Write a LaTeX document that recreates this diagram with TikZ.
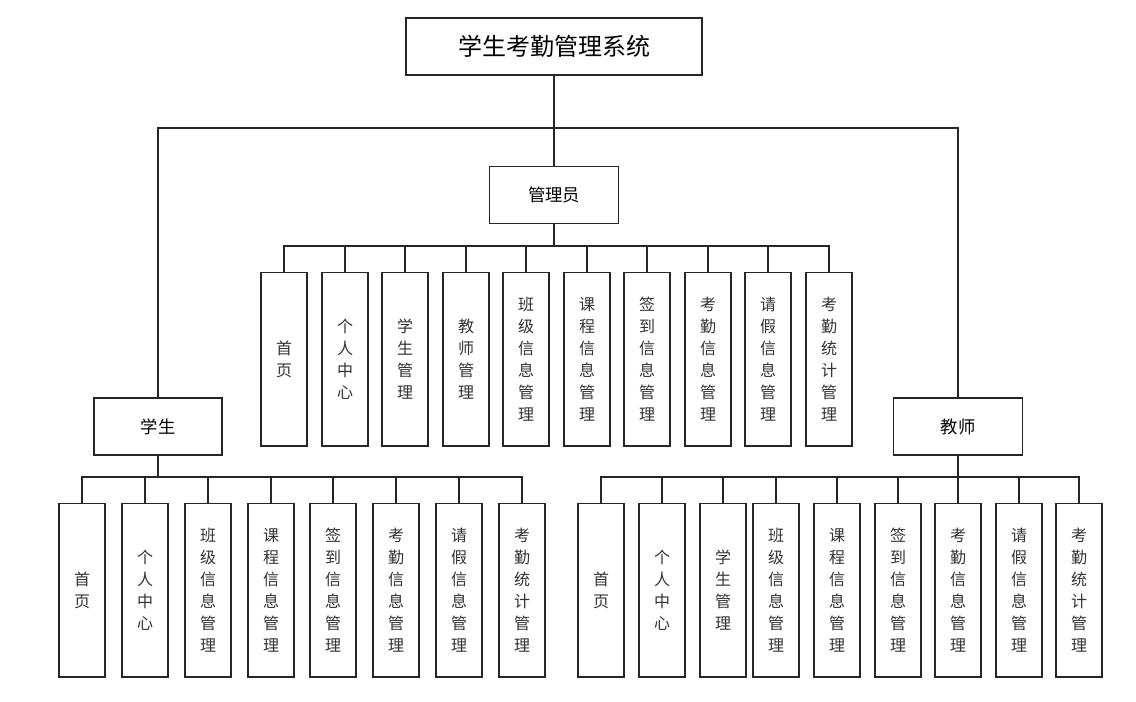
\documentclass[tikz,border=0pt]{standalone}
\usepackage{fontspec}
\setmainfont{Noto Sans CJK SC}
\usepackage{tikz}
\usetikzlibrary{positioning}
\tikzstyle{tree}  =[draw=black!85, line width=1.05pt]
\tikzstyle{titlebox}=[draw=black!85, line width=1.1pt, fill=white,
                    minimum width=222pt, minimum height=43pt,
                    inner sep=0pt, font=\fontsize{18}{20}\selectfont]
\tikzstyle{rolebox}=[draw=black!85, line width=1.1pt, fill=white,
                    minimum height=43pt, inner sep=0pt,
                    font=\fontsize{13}{15}\selectfont]
\tikzstyle{leaf}  =[draw=black!85, line width=1.1pt, fill=white,
                    minimum width=34.5pt, minimum height=130pt,
                    inner sep=0pt, anchor=north, align=center,
                    text=black!80, font=\fontsize{12}{16.5}\selectfont]

\begin{document}
\begin{tikzpicture}[x=0.75pt,y=-0.75pt]
    \useasboundingbox (0,0) rectangle (1136,701);

    \draw (554,46.5) node (sys) [titlebox] {学生考勤管理系统};
    \draw (554,195) node (adm) [rolebox, minimum width=97pt] {管理员};
    \draw (158,426.5) node (stu) [rolebox, minimum width=96pt] {学生};
    \draw (958,426.5) node (tea) [rolebox, minimum width=97pt] {教师};

    % administrator
    \foreach \i/\x/\t in {1/284/首\\页, 2/345/个\\人\\中\\心,
        3/405/学\\生\\管\\理, 4/466/教\\师\\管\\理,
        5/526/班\\级\\信\\息\\管\\理, 6/587/课\\程\\信\\息\\管\\理,
        7/647/签\\到\\信\\息\\管\\理, 8/708/考\\勤\\信\\息\\管\\理,
        9/768/请\\假\\信\\息\\管\\理, 10/829/考\\勤\\统\\计\\管\\理}
        \draw (\x,272) node (a\i) [leaf] {\t};

    % student
    \foreach \i/\x/\t in {1/82/首\\页, 2/145/个\\人\\中\\心,
        3/208/班\\级\\信\\息\\管\\理, 4/271/课\\程\\信\\息\\管\\理,
        5/333/签\\到\\信\\息\\管\\理, 6/396/考\\勤\\信\\息\\管\\理,
        7/459/请\\假\\信\\息\\管\\理, 8/522/考\\勤\\统\\计\\管\\理}
        \draw (\x,503) node (s\i) [leaf] {\t};

    % teacher
    \foreach \i/\x/\t in {1/601/首\\页, 2/662/个\\人\\中\\心,
        3/723/学\\生\\管\\理, 4/776/班\\级\\信\\息\\管\\理,
        5/837/课\\程\\信\\息\\管\\理, 6/898/签\\到\\信\\息\\管\\理,
        7/958/考\\勤\\信\\息\\管\\理, 8/1019/请\\假\\信\\息\\管\\理,
        9/1079/考\\勤\\统\\计\\管\\理}
        \draw (\x,503) node (t\i) [leaf] {\t};

    \draw [tree] (sys.south) -- (adm.north);
    \draw [tree] (sys.south) -- ++(0,52) -| (stu.north);
    \draw [tree] (sys.south) -- ++(0,52) -| (tea.north);

    \foreach \i in {1,...,10}
        \draw [tree] (adm.south) -- ++(0,21.5) -| (a\i.north);
    \foreach \i in {1,...,8}
        \draw [tree] (stu.south) -- ++(0,21) -| (s\i.north);
    \foreach \i in {1,...,9}
        \draw [tree] (tea.south) -- ++(0,21) -| (t\i.north);

\end{tikzpicture}
\end{document}
